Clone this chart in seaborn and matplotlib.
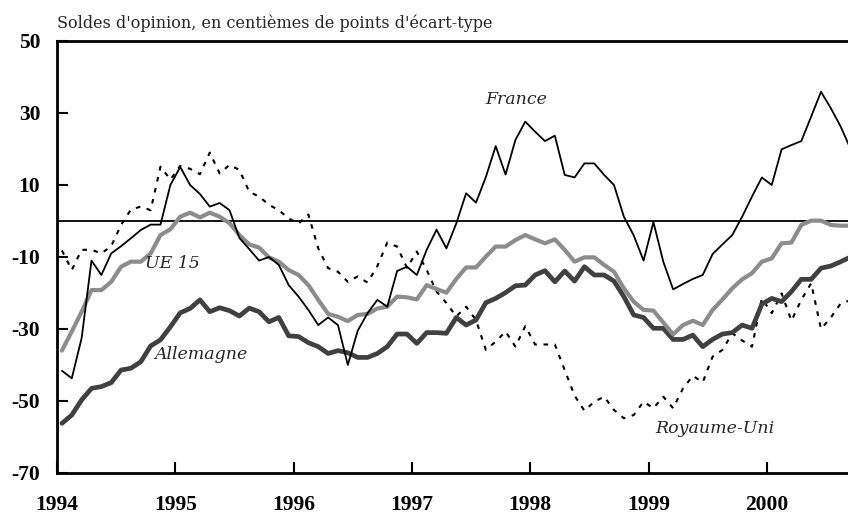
import numpy as np
import pandas as pd
import matplotlib
matplotlib.use("Agg")
import matplotlib.pyplot as plt
import seaborn as sns

# Monthly opinion balances, Jan 1994 onwards
start_year = 1994
france = [-41.6, -43.7, -32.5, -11, -15, -9, -7, -4.8, -2.5, -1,
          -1, 10, 15, 10, 7.5, 4, 5, 3, -4.7, -7.8,
          -11, -10, -12.2, -17.8, -21, -24.7, -28.9, -26.8, -28.9, -40,
          -30.5, -25.6, -21.9, -23.8, -13.9, -12.7, -15, -8, -2.4, -7.6,
          -0.7, 7.7, 5.1, 12.2, 20.8, 12.9, 22.5, 27.6, 24.8, 22.2,
          23.7, 12.8, 12.1, 16, 16, 12.8, 10, 1.2, -4, -11,
          -0.3, -11.3, -19, -17.5, -16.1, -15, -9.2, -6.5, -3.9, 1.2,
          6.8, 12.1, 10, 19.9, 21.1, 22.2, 29, 35.9, 31.3, 26.2, 20]
ue15 = [-36, -30.7, -25.2, -19.2, -19.2, -16.9, -12.7, -11.3, -11.3, -9,
        -3.9, -2.3, 1.2, 2.3, 1, 2.3, 1.2, -0.6, -3.9, -6.5,
        -7.4, -10.1, -11.3, -13.6, -15, -17.8, -21.9, -25.8, -26.6, -27.8,
        -26.1, -25.8, -24.3, -23.8, -21, -21.2, -21.8, -17.8, -18.9, -19.9,
        -16.1, -12.9, -12.9, -9.9, -7.1, -7.1, -5.3, -3.9, -5.1, -6.2,
        -5.1, -8, -11.3, -10.1, -10.1, -12.2, -14.1, -18.7, -22.4, -24.7,
        -24.9, -28.2, -31.5, -28.9, -27.7, -28.9, -24.7, -21.8, -18.7, -16.2,
        -14.5, -11.3, -10.4, -6.2, -6, -1.1, 0.1, 0.1, -1.1, -1.3, -1.3]
allemagne = [-56.2, -53.9, -49.7, -46.5, -46, -44.9, -41.4, -40.9, -39.1, -34.7,
             -33, -29.4, -25.5, -24.3, -21.9, -25.2, -24.1, -24.9, -26.4, -24.2,
             -25.2, -28, -26.8, -31.9, -32.1, -33.8, -34.9, -36.8, -36, -36.6,
             -37.9, -37.9, -36.8, -34.9, -31.4, -31.4, -34, -31, -31, -31.2,
             -26.8, -28.9, -27.5, -22.7, -21.5, -19.9, -18, -17.8, -15, -13.8,
             -16.9, -13.9, -16.7, -12.7, -15, -15, -16.7, -21, -26.1, -26.8,
             -29.8, -29.8, -32.9, -32.9, -31.7, -34.9, -32.9, -31.4, -31, -28.9,
             -29.8, -23.1, -21.5, -22.4, -19.6, -16.2, -16.2, -13.1, -12.5, -11.3, -10]
royaume_uni = [-8.2, -13.6, -8, -8, -9, -7, -1.1, 3.2, 4, 3,
               15.1, 11.5, 15.3, 14.5, 13, 19, 13.2, 15.6, 14.2, 8.1,
               6.8, 4.5, 3, 0.7, -0.7, 1.8, -7.6, -13.1, -14.1, -16.9,
               -15.4, -17.1, -12.5, -6, -7.1, -13, -8.5, -13.6, -19.6, -22.8,
               -26.5, -23.8, -27.5, -35.8, -33.5, -30.7, -34.9, -29.2, -34.3, -34.3,
               -34.3, -41.4, -48.5, -52.7, -50.2, -48.8, -52.5, -54.8, -53.9, -50.2,
               -52, -48.8, -52, -46.5, -43, -44.8, -37.7, -35.8, -31.2, -33.2,
               -34.9, -21.5, -25.6, -20.1, -27.7, -21.9, -17.3, -30, -26.8, -22.9, -22]

year_ticks = [1994, 1995, 1996, 1997, 1998, 1999, 2000]
y_ticks = [-70, -50, -30, -10, 10, 30, 50]
title = "Soldes d'opinion, en centièmes de points d'écart-type"

# mid-month positions in decimal years
t = start_year + (np.arange(len(france)) + 0.5) / 12

sns.set_style("ticks")
plt.rcParams["font.family"] = ["Liberation Serif", "DejaVu Serif"]

fig = plt.figure(figsize=(8.48, 5.14), dpi=100)
ax = fig.add_axes([57 / 848, 1 - 473 / 514, 1 - 57 / 848, (473 - 41) / 514])

sns.lineplot(x=t, y=royaume_uni, ax=ax, color="black", linewidth=1.5,
             linestyle=(0, (2.2, 3.2)))
sns.lineplot(x=t, y=allemagne, ax=ax, color="#404040", linewidth=3.4)
sns.lineplot(x=t, y=ue15, ax=ax, color="#8c8c8c", linewidth=3.0)
sns.lineplot(x=t, y=france, ax=ax, color="black", linewidth=1.3)
ax.axhline(0, color="black", linewidth=1.3, zorder=1)

ax.set_xlim(1994, 1994 + (848 - 57) / 118.3)
ax.set_ylim(-70, 50)
ax.set_xticks(year_ticks)
ax.set_yticks(y_ticks)
ax.set_xticklabels([str(y) for y in year_ticks])
ax.set_yticklabels([str(v) for v in y_ticks])
ax.tick_params(axis="both", direction="in", length=8, width=1.5,
               labelsize=15.5, colors="black")
ax.tick_params(axis="x", pad=16)
ax.tick_params(axis="y", pad=12)
for lab in ax.get_xticklabels() + ax.get_yticklabels():
    lab.set_fontweight("bold")

for side in ["left", "bottom", "top"]:
    ax.spines[side].set_linewidth(2)
    ax.spines[side].set_color("black")
ax.spines["right"].set_visible(False)
ax.set_xlabel("")
ax.set_ylabel("")

# series names, wider serif like the original
lab_kw = dict(fontsize=12.5, fontstyle="italic", ha="center", va="center",
              family="DejaVu Serif")
ax.text(1994 + 46.6 / 12, 33.8, "France", **lab_kw)
ax.text(1994 + 11.7 / 12, -11.7, "UE 15", **lab_kw)
ax.text(1994 + 14.6 / 12, -37, "Allemagne", **lab_kw)
ax.text(1994 + 66.7 / 12, -57.6, "Royaume-Uni", **lab_kw)

fig.text(57 / 848, 1 - 28 / 514, title, fontsize=11.5, ha="left", va="baseline",
         family="DejaVu Serif")

fig.savefig("out.png", dpi=100)
plt.close(fig)
